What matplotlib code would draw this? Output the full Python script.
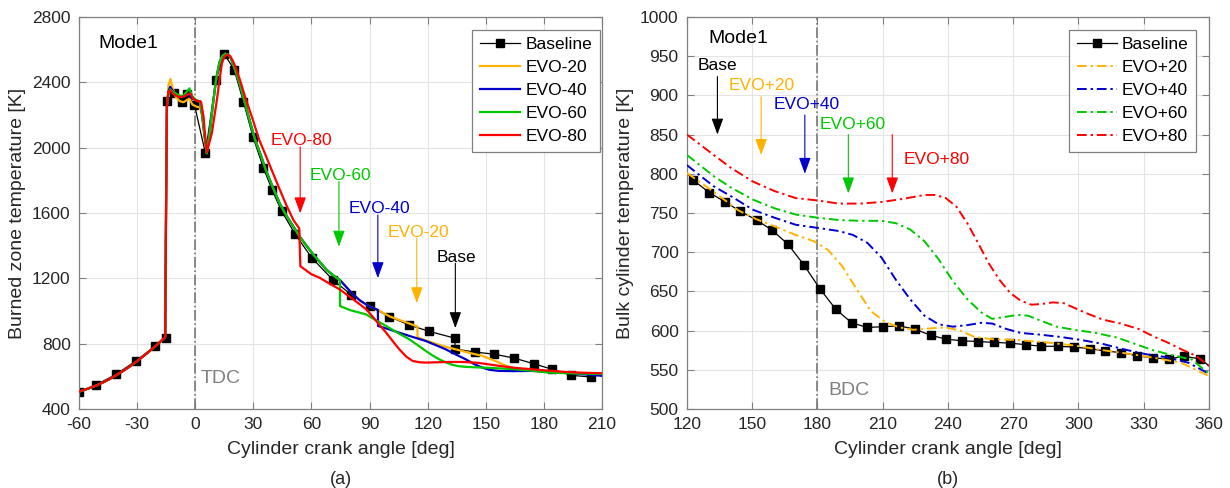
import matplotlib
matplotlib.use("Agg")
import matplotlib.pyplot as plt

plt.rcParams['font.family'] = ['Liberation Sans', 'DejaVu Sans']
plt.rcParams['axes.unicode_minus'] = False

# ---------------- (a) burned zone temperature ----------------
# baseline markers
base_a_x = [-60, -51, -40.9, -30.8, -20.5, -15.3, -14.8, -10.7, -6.8, -4.4, -0.4, 5.3, 10.7,
            15.1, 20.1, 24.9, 29.9, 35.2, 39.7, 44.6, 51.6, 60.1, 71.1, 80.6, 90.2, 100.1,
            110.3, 120.9, 133.9, 134.3, 144.6, 154.2, 164.5, 174.8, 184.0, 194.2, 204.2]
base_a_y = [506, 549, 612, 693, 787, 834, 2285, 2332, 2281, 2327, 2264, 1965, 2417,
            2572, 2478, 2281, 2063, 1877, 1741, 1612, 1470, 1327, 1190, 1099, 1028, 966,
            915, 875, 834, 767, 748, 736, 712, 677, 644, 606, 596]

# compression part shared by all EVO curves
comp_x = [-60, -55, -50, -45, -40, -35, -30, -25, -20, -15.5]
comp_y = [506, 526, 549, 578, 612, 650, 693, 740, 790, 840]

# combustion top, per curve
evo20_top_x = [-15.2, -14.6, -13.8, -12.8, -11.5, -10, -8, -6, -4.5, -3, -1.5, 0.5, 2.5, 3.6, 4.8]
evo20_top_y = [1400, 2250, 2380, 2420, 2360, 2310, 2285, 2278, 2290, 2300, 2265, 2252, 2246, 2190, 2070]
evo40_top_x = [-15.2, -14.6, -13.8, -12.9, -11.5, -10, -8, -6, -4.5, -3.4, -1.5, 0.5, 2.5, 3.6, 4.8]
evo40_top_y = [1400, 2250, 2345, 2373, 2345, 2330, 2315, 2312, 2325, 2332, 2300, 2290, 2284, 2200, 2075]
evo60_top_x = [-15.2, -14.6, -13.8, -12.9, -11.5, -10, -8, -6, -4.5, -3, -1.5, 0.5, 2.5, 3.6, 4.8]
evo60_top_y = [1400, 2250, 2335, 2357, 2340, 2332, 2318, 2318, 2340, 2363, 2315, 2290, 2282, 2200, 2075]

# expansion part shared by EVO-20/40/60
expan_x = [6, 7.5, 9, 10.8, 12.5, 14, 15.5, 17, 18.5, 20.5, 23, 25.8, 28.5, 31, 34, 36.5,
           40, 43.6, 47, 50.7, 54, 57.8, 61, 64.9, 68, 72, 74.7]
expan_y = [1966, 2090, 2250, 2418, 2520, 2560, 2575, 2570, 2545, 2480, 2390, 2270, 2150, 2046,
           1950, 1862, 1760, 1659, 1585, 1517, 1455, 1394, 1345, 1292, 1250, 1211, 1190]

# expansion part shared by EVO-20/40 after 75 deg
mid_x = [80.9, 85, 89.8, 94.3]
mid_y = [1109, 1065, 1028, 1007]

evo20_tail_x = [100.5, 107.6, 114.7, 114.8, 122.6, 128, 134.6, 141, 148.3, 153, 156.9, 160,
                163.7, 168, 174, 182, 191, 200, 210]
evo20_tail_y = [966, 936, 905, 838, 806, 785, 765, 745, 725, 703, 684, 667,
                653, 642, 633, 628, 623, 618, 613]
evo40_tail_x = [94.4, 100, 105.4, 112, 119.1, 124, 129.4, 134, 139.7, 144, 148.3, 152, 156.9,
                165, 174, 182, 191.1, 200, 210]
evo40_tail_y = [908, 888, 867, 842, 816, 792, 765, 737, 704, 675, 653, 640, 633,
                632, 633, 628, 623, 613, 603]
evo60_tail_x = [74.8, 80, 88.3, 93, 98.6, 104, 110.6, 115, 119.1, 122.5, 126, 129.5, 132.9,
                136, 139.7, 145, 150, 158, 165.4, 175, 182.6, 195, 210]
evo60_tail_y = [1030, 1005, 979, 945, 908, 870, 826, 790, 755, 728, 704, 685, 670,
                662, 658, 655, 653, 648, 643, 633, 623, 618, 614]

evo80_x = [-15.2, -14.6, -13.8, -12.9, -11.5, -10, -8, -6, -4, -2.6, -1, 1, 3, 4.3, 5, 6,
           7.3, 8.6, 10, 11.2, 12.5, 13.8, 15, 16.3, 18, 19.5, 21.4, 23.5, 25.7, 29.5, 33,
           36.5, 40.3, 43.6, 47, 50.7, 53.7, 54.3, 60, 64.3, 69, 74.6, 80, 84, 88.3, 92,
           95.5, 98.6, 102, 105.4, 109, 112.3, 116, 119, 125, 131, 138, 144.9, 150, 156.9,
           165, 174, 182, 191, 200, 210]
evo80_y = [1300, 2250, 2340, 2352, 2330, 2318, 2310, 2312, 2325, 2332, 2300, 2285, 2282, 2190,
           2090, 1972, 2030, 2088, 2198, 2292, 2410, 2516, 2555, 2570, 2562, 2530, 2476, 2400,
           2313, 2180, 2050, 1950, 1840, 1745, 1650, 1557, 1506, 1274, 1225, 1203, 1170,
           1132, 1085, 1050, 1010, 960, 910, 867, 815, 765, 720, 694, 686, 684, 686, 688,
           688, 684, 676, 664, 652, 643, 635, 627, 622, 619]

# ---------------- (b) bulk cylinder temperature ----------------
base_b_x = [120, 122.8, 130.3, 137.6, 144.6, 152.0, 159.2, 166.5, 173.7, 181.2, 188.5, 195.7,
            202.9, 210.3, 217.5, 224.7, 232.1, 239.3, 246.6, 254.0, 261.2, 268.6, 275.8,
            283.0, 290.4, 297.8, 305.2, 312.1, 319.4, 326.8, 334.2, 341.4, 348.7, 356.1, 360]
base_b_y = [801, 792, 776, 764, 752, 741, 728, 710, 684, 653, 627, 610,
            604, 605, 606, 602, 594, 589, 587, 586, 585, 584, 582,
            580, 580, 579, 577, 574, 572, 568, 565, 564, 567, 564, 555]

p20_x = [120, 132.3, 143.8, 152, 160.2, 170, 178.3, 184.8, 191.4, 198, 204.5, 211.1, 217.7,
         224.2, 232.4, 239, 245.6, 252.1, 260.3, 271.8, 284.9, 298.1, 311.2, 324.3, 337.4,
         347.2, 360]
p20_y = [801, 777, 753, 742, 733, 722, 714, 703, 682, 653, 625, 611, 604,
         601, 603, 604, 600, 592, 589, 588, 585, 581, 575, 570, 564, 559, 542]
p40_x = [120, 132.3, 140.5, 150.4, 160.2, 170, 180, 189.8, 196.3, 202.9, 209.5, 216, 222.6,
         229.2, 235.7, 242.3, 248.9, 255.4, 260.3, 266.9, 273.5, 281.7, 291.5, 301.3, 311.2,
         321, 330.8, 340.6, 350.5, 360]
p40_y = [811, 784, 771, 754, 744, 735, 731, 727, 722, 712, 693, 665, 640,
         619, 608, 605, 607, 610, 609, 602, 597, 595, 592, 588, 583,
         576, 570, 566, 559, 545]
p60_x = [120, 132.3, 140.5, 150.4, 160.2, 170, 180, 189.8, 199.6, 209.5, 216, 222.6, 229.2,
         235.7, 242.3, 248.9, 255.4, 260.3, 265.3, 271.8, 276.8, 283.3, 289.9, 298.1, 307.9,
         317.8, 326, 334.2, 344, 352.2, 360]
p60_y = [824, 797, 782, 767, 756, 748, 744, 741, 740, 740, 737, 729, 714,
         691, 663, 640, 623, 615, 617, 620, 619, 612, 605, 601, 597,
         591, 583, 575, 568, 563, 545]
p80_x = [120, 132.3, 140.5, 150.4, 160.2, 170, 180, 189.8, 199.6, 209.5, 219.3, 229.2, 234.1,
         239, 243.9, 248.9, 253.8, 258.7, 263.6, 268.6, 273.5, 278.4, 283.3, 288.3, 293.2,
         298.1, 304.7, 311.2, 319.4, 327.7, 334.2, 340.8, 347.4, 353.9, 360]
p80_y = [850, 824, 807, 790, 778, 769, 766, 762, 762, 764, 768, 773, 773,
         769, 758, 737, 712, 686, 665, 648, 638, 633, 634, 636, 635,
         629, 621, 614, 609, 602, 593, 585, 576, 568, 555]

c_or = '#FFB300'
c_bl = '#0000CC'
c_gr = '#00C800'
c_rd = '#FF0000'
axis_col = '#808080'
txt_col = '#262626'

fig = plt.figure(figsize=(12.3, 4.88), dpi=100)
ax1 = fig.add_axes([0.0642, 0.1619, 0.4252, 0.8033])
ax2 = fig.add_axes([0.5585, 0.1619, 0.4244, 0.8033])


def style(ax):
    ax.grid(True, color='#e4e4e4', lw=0.8, zorder=0)
    ax.set_axisbelow(True)
    for s in ax.spines.values():
        s.set_color(axis_col)
        s.set_linewidth(0.9)
    ax.tick_params(direction='in', length=5, width=0.8, color=axis_col,
                   labelcolor=txt_col, labelsize=12.5, top=True, right=True, pad=6)


# ---- left panel ----
style(ax1)
ax1.axvline(0, color='#777777', ls='-.', lw=1.2, zorder=1)
ax1.plot(comp_x + evo20_top_x + expan_x + mid_x + evo20_tail_x,
         comp_y + evo20_top_y + expan_y + mid_y + evo20_tail_y, color=c_or, lw=1.6, label='EVO-20', zorder=3)
ax1.plot(comp_x + evo40_top_x + expan_x + mid_x + evo40_tail_x,
         comp_y + evo40_top_y + expan_y + mid_y + evo40_tail_y, color=c_bl, lw=1.6, label='EVO-40', zorder=3)
ax1.plot(comp_x + evo60_top_x + expan_x + evo60_tail_x,
         comp_y + evo60_top_y + expan_y + evo60_tail_y, color=c_gr, lw=1.6, label='EVO-60', zorder=3)
ax1.plot(comp_x + evo80_x, comp_y + evo80_y, color=c_rd, lw=1.6, label='EVO-80', zorder=4)
ax1.plot(base_a_x, base_a_y, color='black', lw=0.9, marker='s', ms=5.5, label='Baseline', zorder=2)

ax1.set_xlim(-60, 210)
ax1.set_ylim(400, 2800)
ax1.set_xticks(range(-60, 211, 30))
ax1.set_yticks(range(400, 2801, 400))
ax1.set_xlabel('Cylinder crank angle [deg]', fontsize=14, color=txt_col, labelpad=6)
ax1.set_ylabel('Burned zone temperature [K]', fontsize=14, color=txt_col)

h, l = ax1.get_legend_handles_labels()
order = [4, 0, 1, 2, 3]
leg = ax1.legend([h[i] for i in order], [l[i] for i in order], loc='upper right',
                 bbox_to_anchor=(0.996, 0.968), borderaxespad=0, fontsize=12.5,
                 fancybox=False, edgecolor=axis_col, framealpha=1, handlelength=2.3,
                 handletextpad=0.3, labelspacing=0.45, borderpad=0.45)
leg.get_frame().set_linewidth(0.9)

ax1.text(-50, 2640, 'Mode1', fontsize=14, va='center', ha='left')
ax1.text(3, 589, 'TDC', fontsize=14, color='#808080', va='center', ha='left')

arrows_a = [('EVO-80', 54.2, 2005, 1598, c_rd), ('EVO-60', 74.2, 1792, 1394, c_gr),
            ('EVO-40', 94.3, 1588, 1201, c_bl), ('EVO-20', 114.4, 1445, 1048, c_or),
            ('Base', 134.3, 1292, 895, 'black')]
for lab, xa, y0, y1, c in arrows_a:
    ax1.annotate('', xy=(xa, y1), xytext=(xa, y0),
                 arrowprops=dict(arrowstyle='-|>,head_length=0.55,head_width=0.2',
                                 color=c, lw=0.8, mutation_scale=18, shrinkA=0, shrinkB=0))
    ax1.text(xa + 0.8, y0 + 38, lab, color=c, fontsize=12.5, ha='center', va='center')

# ---- right panel ----
style(ax2)
ax2.axvline(180, color='#777777', ls='-.', lw=1.2, zorder=1)
dd = (0, (5, 2, 1.2, 2))
ax2.plot(p20_x, p20_y, color=c_or, lw=1.4, ls=dd, label='EVO+20', zorder=3)
ax2.plot(p40_x, p40_y, color=c_bl, lw=1.4, ls=dd, label='EVO+40', zorder=3)
ax2.plot(p60_x, p60_y, color=c_gr, lw=1.4, ls=dd, label='EVO+60', zorder=3)
ax2.plot(p80_x, p80_y, color=c_rd, lw=1.4, ls=dd, label='EVO+80', zorder=3)
ax2.plot(base_b_x, base_b_y, color='black', lw=0.9, marker='s', ms=5.5,
         markevery=list(range(1, len(base_b_x) - 1)), label='Baseline', zorder=2)

ax2.set_xlim(120, 360)
ax2.set_ylim(500, 1000)
ax2.set_xticks(range(120, 361, 30))
ax2.set_yticks(range(500, 1001, 50))
ax2.set_xlabel('Cylinder crank angle [deg]', fontsize=14, color=txt_col, labelpad=6)
ax2.set_ylabel('Bulk cylinder temperature [K]', fontsize=14, color=txt_col)

h, l = ax2.get_legend_handles_labels()
leg2 = ax2.legend([h[i] for i in order], [l[i] for i in order], loc='upper right',
                  bbox_to_anchor=(0.976, 0.968), borderaxespad=0, fontsize=12.5,
                  fancybox=False, edgecolor=axis_col, framealpha=1, handlelength=2.3,
                  handletextpad=0.3, labelspacing=0.45, borderpad=0.45)
leg2.get_frame().set_linewidth(0.9)

ax2.text(129.8, 972, 'Mode1', fontsize=14, va='center', ha='left')
ax2.text(184.8, 524, 'BDC', fontsize=14, color='#808080', va='center', ha='left')

arrows_b = [('Base', 134, 924, 850, 'black', 134), ('EVO+20', 154.1, 898, 824, c_or, 154.2),
            ('EVO+40', 174.2, 875, 800, c_bl, 175), ('EVO+60', 194.2, 850, 775, c_gr, 196),
            ('EVO+80', 214.4, 850, 775, c_rd, 235)]
text_y_b = [938, 913, 888.6, 863, 818.6]
for (lab, xa, y0, y1, c, xt), yt in zip(arrows_b, text_y_b):
    ax2.annotate('', xy=(xa, y1), xytext=(xa, y0),
                 arrowprops=dict(arrowstyle='-|>,head_length=0.55,head_width=0.2',
                                 color=c, lw=0.8, mutation_scale=18, shrinkA=0, shrinkB=0))
    ax2.text(xt, yt, lab, color=c, fontsize=12.5, ha='center', va='center')

fig.text(0.2768, 0.008, '(a)', fontsize=13, ha='center', color=txt_col)
fig.text(0.7707, 0.008, '(b)', fontsize=13, ha='center', color=txt_col)

fig.savefig('out.png', dpi=100)
